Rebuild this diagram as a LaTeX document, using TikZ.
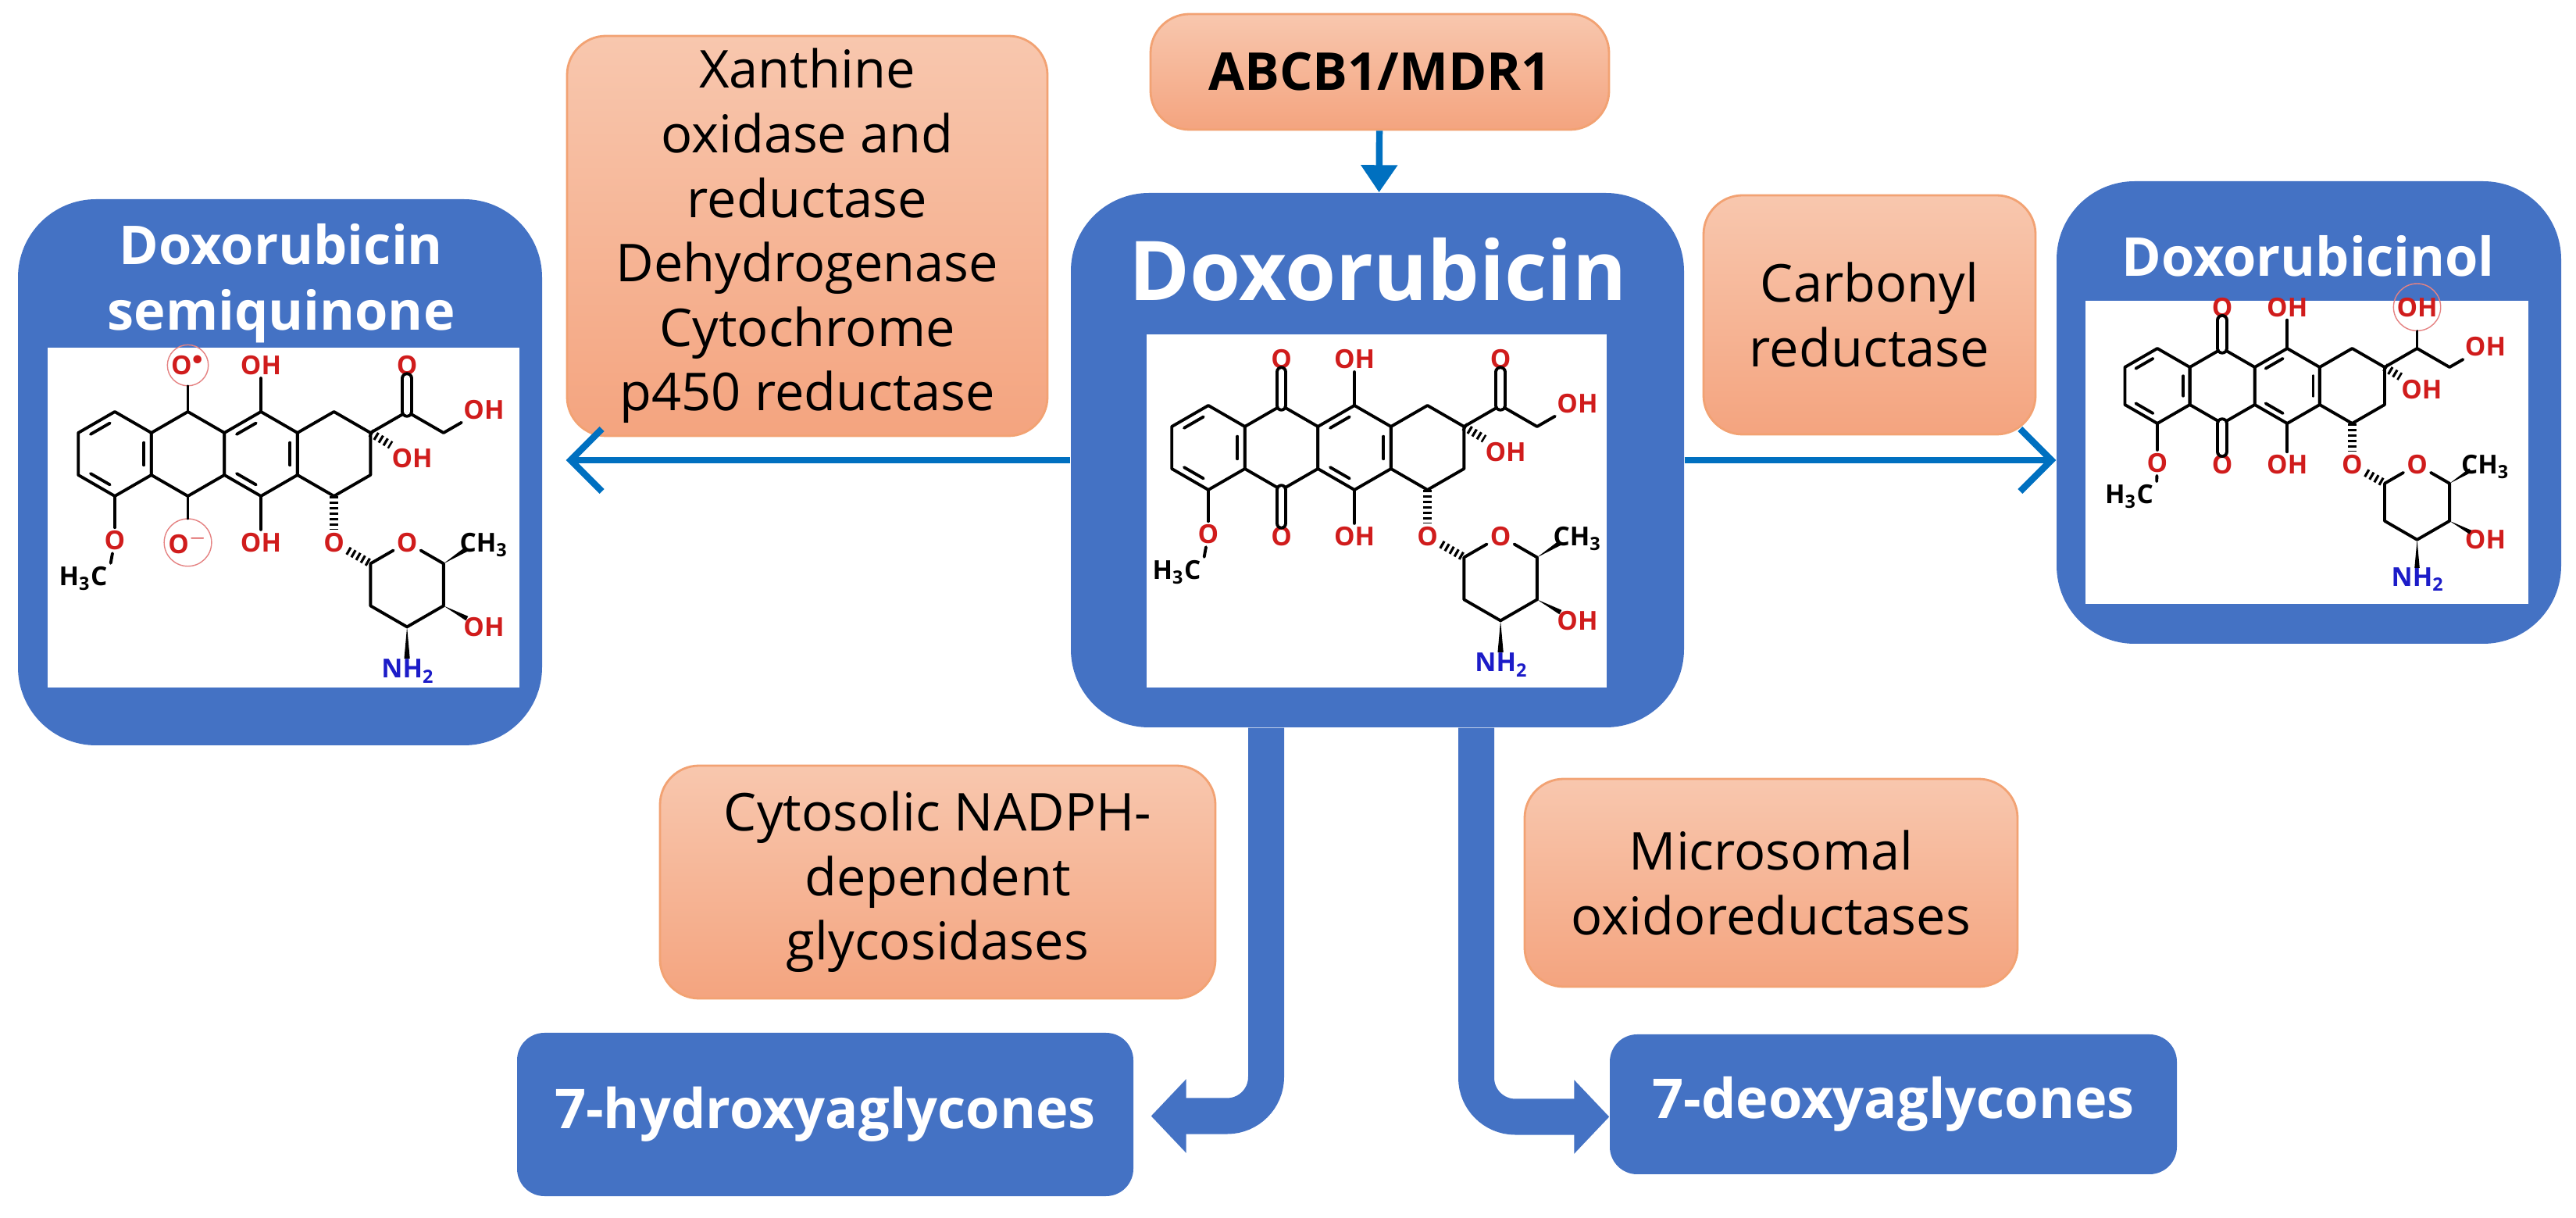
\documentclass[tikz,border=0pt]{standalone}
\usepackage{fontspec}
\setmainfont{Open Sans}
\usetikzlibrary{arrows.meta,calc,shadings}
\definecolor{boxblue}{HTML}{4472C4}
\definecolor{arrowblue}{HTML}{0070C0}
\definecolor{enztop}{HTML}{F8C7AE}
\definecolor{enzbot}{HTML}{F4A47F}
\definecolor{enzline}{HTML}{F2A273}
\definecolor{atomred}{HTML}{D01C1C}
\definecolor{atomblue}{HTML}{1C1CC8}
\tikzset{
  bond/.style={line width=1.1pt,line cap=round,line join=round},
  dbond/.style={bond,double,double distance=2.2pt},
  hbond/.style={line width=3pt,dash pattern=on 0.9pt off 1.1pt},
  atom/.style={text=atomred,font=\fontsize{9.5}{9.5}\selectfont\bfseries,inner sep=1pt},
  ring/.style={atom,draw=atomred!55,circle,inner sep=0.3pt},
  metab/.style={fill=boxblue,rounded corners=1cm,text=white,font=\bfseries},
  panel/.style={fill=white},
  enzyme/.style={top color=enztop,bottom color=enzbot,draw=enzline,line width=0.8pt,
    rounded corners=0.5cm,align=center,font=\fontsize{19}{23.5}\selectfont},
  product/.style={fill=boxblue,rounded corners=0.35cm,text=white,
    font=\fontsize{20}{24}\selectfont\bfseries},
  thin arrow/.style={draw=arrowblue,line width=2.4pt,-{Straight Barb[length=4mm,width=8mm]}},
  block arrow/.style={draw=boxblue,line width=0.46cm,rounded corners=0.5cm,
    -{Triangle[length=4.5mm,width=9.2mm]}}
}
% wedge bond from #1 to #2
\newcommand\wedgebond[2]{\fill #1 -- ($#2!0.09!90:#1$) -- ($#2!0.09!-90:#1$) -- cycle;}
% doxorubicin skeleton: #1 origin, #2 unit, #3 variant (0 semiquinone, 1 parent, 2 alcohol)
\newcommand\doxmol[3]{%
\begin{scope}[shift={#1},x=#2cm,y=#2cm]
% four fused rings
\foreach \c in {0,1.732,3.464,5.196}
  \draw[bond] (\c,0) +(30:1) -- +(90:1) -- +(150:1) -- +(210:1) -- +(270:1) -- +(330:1) -- cycle;
% aromatic inner lines
\foreach \c in {0,3.464}
  \foreach \a in {90,210,330}
    \draw[bond] (\c,0) +(\a+9:0.74) -- +(\a+51:0.74);
% quinone / semiquinone oxygens
\ifcase#3
  \node[ring] (qtop) at (1.732,2.1) {O$^{\bullet}$};
  \node[ring] (qbot) at (1.732,-2.1) {O$^{-}$};
  \draw[bond] (1.732,1) -- (qtop);
  \draw[bond] (1.732,-1) -- (qbot);
\else
  \node[atom] (qtop) at (1.732,2.1) {O};
  \node[atom] (qbot) at (1.732,-2.1) {O};
  \draw[dbond] (1.732,1) -- (qtop);
  \draw[dbond] (1.732,-1) -- (qbot);
\fi
\node[atom] (phtop) at (3.464,2.1) {OH};
\node[atom] (phbot) at (3.464,-2.1) {OH};
\draw[bond] (3.464,1) -- (phtop);
\draw[bond] (3.464,-1) -- (phbot);
% methoxy
\node[atom] (ome) at (0,-2.05) {O};
\node[atom,text=black] (me) at (-0.75,-2.95) {H\textsubscript{3}C};
\draw[bond] (0,-1) -- (ome);
\draw[bond] (ome) -- (me.north east);
% side chain
\coordinate (sc) at (6.928,1);
\coordinate (ch) at (7.794,0.5);
\node[atom] (scoh) at (8.75,1.05) {OH};
\node[atom] (tert) at (7.05,-0.1) {OH};
\draw[bond] (6.062,0.5) -- (sc) -- (ch) -- (scoh);
\draw[hbond] (6.062,0.5) -- (tert);
\ifnum#3=2
  \node[ring] (sco) at (6.928,2.1) {OH};
  \draw[bond] (sc) -- (sco);
\else
  \node[atom] (sco) at (6.928,2.1) {O};
  \draw[dbond] (sc) -- (sco);
\fi
% daunosamine
\node[atom] (gly) at (5.196,-2.1) {O};
\node[atom] (ro) at (6.928,-2.1) {O};
\coordinate (c1) at (6.062,-2.6);
\coordinate (c2) at (6.062,-3.6);
\coordinate (c3) at (6.928,-4.1);
\coordinate (c4) at (7.794,-3.6);
\coordinate (c5) at (7.794,-2.6);
\node[atom,text=black] (me2) at (8.75,-2.15) {CH\textsubscript{3}};
\node[atom] (oh4) at (8.75,-4.1) {OH};
\node[atom,text=atomblue] (nh) at (6.95,-5.15) {NH\textsubscript{2}};
\draw[hbond] (5.196,-1) -- (gly);
\draw[hbond] (gly) -- (c1);
\draw[bond] (c1) -- (ro) -- (c5) -- (c4) -- (c3) -- (c2) -- (c1);
\wedgebond{(c5)}{(8.35,-2.25)}
\wedgebond{(c4)}{(8.35,-3.9)}
\wedgebond{(c3)}{(6.928,-4.85)}
\end{scope}}
\begin{document}
\begin{tikzpicture}
\useasboundingbox (0,0) rectangle (32.98,15.58);
% metabolite panels
\node[metab,minimum width=6.71cm,minimum height=6.99cm] (semi) at (3.585,9.535) {};
\node[panel,minimum width=6.04cm,minimum height=4.35cm] at (3.63,8.955) {};
\node[text=white,font=\fontsize{19.5}{24}\selectfont\bfseries,align=center] at (3.6,11.95)
  {Doxorubicin\\semiquinone};
\node[metab,minimum width=7.85cm,minimum height=6.84cm] (dox) at (17.635,9.69) {};
\node[panel,minimum width=5.89cm,minimum height=4.52cm] at (17.625,9.04) {};
\node[text=white,font=\fontsize{30}{36}\selectfont\bfseries] at (17.64,12.13) {Doxorubicin};
\node[metab,minimum width=6.46cm,minimum height=5.92cm] (dol) at (29.56,10.30) {};
\node[panel,minimum width=5.67cm,minimum height=3.88cm] at (29.535,9.79) {};
\node[text=white,font=\fontsize{19.5}{24}\selectfont\bfseries] at (29.55,12.3) {Doxorubicinol};
% structures
\doxmol{(1.47,9.77)}{0.54}{0}
\doxmol{(15.47,9.85)}{0.54}{1}
\doxmol{(27.62,10.64)}{0.48}{2}
% enzymes
\node[enzyme,minimum width=6.15cm,minimum height=5.12cm] (xo) at (10.335,12.56)
  {Xanthine\\oxidase and\\reductase\\Dehydrogenase\\Cytochrome\\p450 reductase};
\node[enzyme,font=\fontsize{19}{23.5}\selectfont\bfseries,minimum width=5.87cm,minimum height=1.48cm]
  (abc) at (17.665,14.66) {ABCB1/MDR1};
\node[enzyme,minimum width=4.25cm,minimum height=3.06cm] (cr) at (23.935,11.55)
  {Carbonyl\\reductase};
\node[enzyme,minimum width=7.11cm,minimum height=2.98cm] (cyt) at (12.005,4.29)
  {Cytosolic NADPH-\\dependent\\glycosidases};
\node[enzyme,minimum width=6.31cm,minimum height=2.66cm] (mic) at (22.675,4.28)
  {Microsomal\\oxidoreductases};
% products
\node[product,minimum width=7.89cm,minimum height=2.09cm] (hyd) at (10.565,1.315) {7-hydroxyaglycones};
\node[product,minimum width=7.26cm,minimum height=1.79cm] (deo) at (24.24,1.445) {7-deoxyaglycones};
% arrows
\draw[thin arrow,-{Triangle[length=3.5mm,width=4.5mm]}] (abc) -- (dox);
\draw[thin arrow,shorten >=3mm] (dox.west) -- (dox.west -| semi.east);
\draw[thin arrow] (dox.east) -- (dox.east -| dol.west);
\coordinate (stemL) at (16.21,0);
\coordinate (stemR) at (18.90,0);
\draw[block arrow] (dox.south -| stemL) |- ([xshift=2.2mm,yshift=-0.2mm]hyd.east);
\draw[block arrow] (dox.south -| stemR) |- ([yshift=-1.6mm]deo.west);
\end{tikzpicture}
\end{document}
